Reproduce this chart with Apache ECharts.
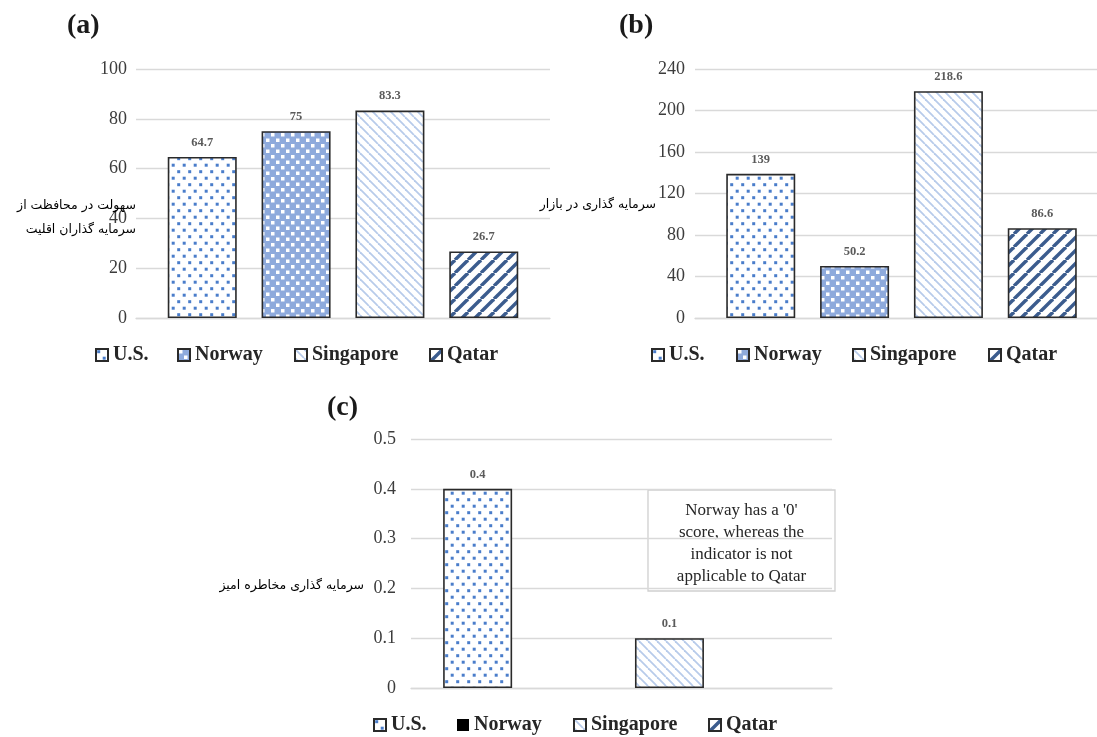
<!DOCTYPE html>
<html>
<head>
<meta charset="utf-8">
<script src="https://cdn.jsdelivr.net/npm/echarts@6/dist/echarts.min.js"></script>
<style>
  html, body { margin: 0; padding: 0; background: #ffffff; width: 1097px; height: 737px; overflow: hidden; position: relative; }
  .panel { position: absolute; }
</style>
</head>
<body>
<div id="panelA" class="panel" style="left:0px;top:0px;width:560px;height:385px;"></div>
<div id="panelB" class="panel" style="left:520px;top:0px;width:590px;height:385px;"></div>
<div id="panelC" class="panel" style="left:180px;top:380px;width:680px;height:357px;"></div>
<script>
// ---- data ----
const seriesNames = ['U.S.', 'Norway', 'Singapore', 'Qatar'];

const minorityValues = [64.7, 75, 83.3, 26.7];   // (a)
const marketValues   = [139, 50.2, 218.6, 86.6]; // (b)
const ventureValues  = [0.4, 0, 0.1, null];      // (c) Qatar: not applicable

const minorityTicks = [0, 100, 20];   // min, max, step
const marketTicks   = [0, 240, 40];
const ventureTicks  = [0, 0.5, 0.1];

const minorityName = 'سهولت در محافظت از\nسرمایه گذاران اقلیت';
const marketName   = 'سرمایه گذاری در بازار';
const ventureName  = 'سرمایه گذاری مخاطره امیز';
const ventureNote  = "Norway has a '0'\nscore, whereas the\nindicator is not\napplicable to Qatar";

// ---- fill patterns ----
function tile(w, h, draw) {
  const c = document.createElement('canvas');
  c.width = w; c.height = h;
  const g = c.getContext('2d');
  draw(g, w, h);
  return c;
}
const dotTile = tile(11, 13, (g, w, h) => {
  g.fillStyle = '#ffffff'; g.fillRect(0, 0, w, h);
  g.fillStyle = '#4a7dca';
  g.fillRect(1.2, 1.2, 3, 3);
  g.fillRect(6.7, 7.7, 3, 3);
});
const checkTile = tile(10, 11, (g, w, h) => {
  g.fillStyle = '#8eaadc'; g.fillRect(0, 0, w, h);
  g.fillStyle = '#ffffff';
  g.fillRect(1, 1, 3.5, 3.5);
  g.fillRect(6, 6.5, 3.5, 3.5);
});
const lightDiagTile = tile(9, 9, (g, w, h) => {
  g.fillStyle = '#ffffff'; g.fillRect(0, 0, w, h);
  g.strokeStyle = '#b7cbea'; g.lineWidth = 1.8;
  for (let k = -1; k <= 1; k++) {
    g.beginPath(); g.moveTo(k * w, 0); g.lineTo(k * w + w, h); g.stroke();
  }
});
const darkDiagTile = tile(13, 13, (g, w, h) => {
  g.fillStyle = '#ffffff'; g.fillRect(0, 0, w, h);
  g.strokeStyle = '#3b5c8e'; g.lineWidth = 3.4;
  for (let k = -1; k <= 1; k++) {
    g.beginPath(); g.moveTo(k * w, h); g.lineTo(k * w + w, 0); g.stroke();
  }
});
const patternFills = [
  { image: dotTile, repeat: 'repeat' },
  { image: checkTile, repeat: 'repeat' },
  { image: lightDiagTile, repeat: 'repeat' },
  { image: darkDiagTile, repeat: 'repeat' }
];

const SERIF = '"Liberation Serif", "Times New Roman", serif';
const ARABIC = '"DejaVu Sans", sans-serif';

// ---- one bar panel: four series clustered in a single category ----
function buildPanel(el, cfg) {
  const chart = echarts.init(document.getElementById(el), null, { renderer: 'canvas' });
  const ox = cfg.ox, oy = cfg.oy;
  const fills = cfg.fills || patternFills;

  const series = seriesNames.map((name, i) => {
    const v = cfg.values[i];
    const solid = cfg.solid && cfg.solid[i];
    return {
      name: name,
      type: 'bar',
      data: [v == null ? '-' : v],
      barWidth: cfg.barWidth,
      barGap: cfg.barGap,
      itemStyle: {
        color: fills[i],
        borderColor: '#2a2a2a',
        borderWidth: solid ? 0 : 1.6
      },
      label: {
        show: true,
        position: 'top',
        distance: 8,
        formatter: p => (p.value > 0 ? String(p.value) : ''),
        fontFamily: SERIF,
        fontWeight: 'bold',
        fontSize: 12.5,
        color: '#5a5a5a'
      }
    };
  });

  const legends = seriesNames.map((name, i) => ({
    data: [name],
    left: cfg.legendX[i] - ox,
    top: cfg.legendY - oy - 10,
    padding: 0,
    icon: 'rect',
    itemWidth: 12,
    itemHeight: 12,
    selectedMode: false,
    textStyle: {
      fontFamily: SERIF,
      fontWeight: 'bold',
      fontSize: 20,
      color: '#262626'
    }
  }));

  const graphics = [
    {
      type: 'text',
      x: cfg.titleX - ox,
      y: cfg.titleY - oy,
      style: {
        text: cfg.title,
        fontFamily: SERIF,
        fontWeight: 'bold',
        fontSize: 28,
        fill: '#1a1a1a',
        textAlign: 'left',
        textVerticalAlign: 'middle'
      }
    },
    {
      type: 'text',
      x: cfg.nameX - ox,
      y: cfg.nameY - oy,
      z: 20,
      style: {
        text: cfg.axisName,
        fontFamily: ARABIC,
        fontSize: 12.5,
        lineHeight: 24,
        fill: '#000000',
        textAlign: 'right',
        textVerticalAlign: 'top'
      }
    }
  ];
  if (cfg.note) {
    const b = cfg.note;
    graphics.push({
      type: 'group',
      x: b.x - ox,
      y: b.y - oy,
      z: 10,
      children: [
        {
          type: 'rect',
          shape: { x: 0, y: 0, width: b.w, height: b.h },
          style: { fill: '#ffffff', stroke: '#cfcfcf', lineWidth: 1.3 }
        },
        {
          type: 'text',
          x: b.w / 2,
          y: 10,
          style: {
            text: b.text,
            fontFamily: SERIF,
            fontSize: 17,
            lineHeight: 22,
            fill: '#262626',
            textAlign: 'center',
            textVerticalAlign: 'top'
          }
        }
      ]
    });
  }

  chart.setOption({
    animation: false,
    backgroundColor: 'transparent',
    grid: {
      left: cfg.grid.left - ox,
      top: cfg.grid.top - oy,
      width: cfg.grid.width,
      height: cfg.grid.height,
      containLabel: false
    },
    xAxis: {
      type: 'category',
      data: [''],
      axisLine: { show: true, lineStyle: { color: '#d9d9d9', width: 1.3 } },
      axisTick: { show: false },
      axisLabel: { show: false }
    },
    yAxis: {
      type: 'value',
      min: cfg.ticks[0],
      max: cfg.ticks[1],
      interval: cfg.ticks[2],
      axisLine: { show: false },
      axisTick: { show: false },
      splitLine: { lineStyle: { color: '#d9d9d9', width: 1.3 } },
      axisLabel: {
        margin: cfg.labelMargin,
        fontFamily: SERIF,
        fontSize: 18,
        color: '#3c3c3c'
      }
    },
    legend: legends,
    graphic: graphics,
    series: series
  });
  return chart;
}

buildPanel('panelA', {
  ox: 0, oy: 0,
  grid: { left: 136, top: 69, width: 414, height: 249 },
  ticks: minorityTicks,
  values: minorityValues,
  labelMargin: 9,
  barWidth: 69,
  barGap: '36%',
  title: '(a)', titleX: 67, titleY: 26,
  axisName: minorityName, nameX: 136, nameY: 194,
  legendX: [95, 177, 294, 429], legendY: 355
});

buildPanel('panelB', {
  ox: 520, oy: 0,
  grid: { left: 695, top: 69, width: 413, height: 249 },
  ticks: marketTicks,
  values: marketValues,
  labelMargin: 10,
  barWidth: 69,
  barGap: '36%',
  title: '(b)', titleX: 619, titleY: 26,
  axisName: marketName, nameX: 656, nameY: 193,
  legendX: [651, 736, 852, 988], legendY: 355
});

buildPanel('panelC', {
  ox: 180, oy: 380,
  grid: { left: 411, top: 439, width: 421, height: 249 },
  ticks: ventureTicks,
  values: ventureValues,
  fills: [patternFills[0], '#000000', patternFills[2], patternFills[3]],
  solid: [false, true, false, false],
  labelMargin: 15,
  barWidth: 69,
  barGap: '39%',
  title: '(c)', titleX: 327, titleY: 408,
  axisName: ventureName, nameX: 364, nameY: 574,
  legendX: [373, 457, 573, 708], legendY: 725,
  note: { x: 648, y: 490, w: 187, h: 101, text: ventureNote }
});
</script>
</body>
</html>
